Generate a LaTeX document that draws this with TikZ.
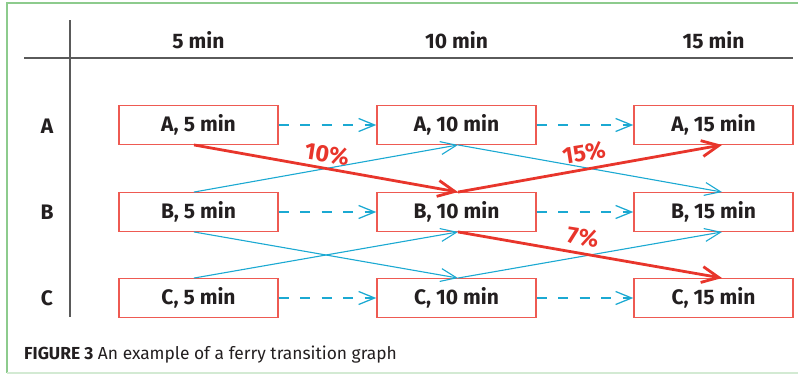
\documentclass[tikz,border=0pt]{standalone}
\usepackage{fontspec}
\setmainfont{Fira Sans}
\usetikzlibrary{arrows.meta,calc}
\definecolor{boxred}{HTML}{EE5A52}
\definecolor{arrred}{HTML}{E8352B}
\definecolor{cyanl}{HTML}{1BA9D2}
\definecolor{gridgray}{HTML}{5A5A5A}
\definecolor{txt}{HTML}{231F20}
\definecolor{greenb}{HTML}{8DCB8D}
\definecolor{greenl}{HTML}{D3EAD3}
\begin{document}
\begin{tikzpicture}[x=1pt,y=-1pt,
  statebox/.style={draw=boxred,line width=1.4pt,minimum width=159pt,minimum height=38.5pt,inner sep=0pt,text=txt,font=\fontsize{21}{24}\selectfont\bfseries},
  head/.style={text=txt,font=\fontsize{21}{24}\selectfont\bfseries,inner sep=0pt},
  wait/.style={draw=cyanl,line width=1.25pt,dash pattern=on 10pt off 11.5pt,-{Straight Barb[length=16pt,width=13pt]}},
  move/.style={draw=cyanl,line width=1.1pt,-{Straight Barb[length=16pt,width=13pt]}},
  hot/.style={draw=arrred,line width=2.8pt,-{Straight Barb[length=17pt,width=16pt]}},
  pct/.style={text=arrred,font=\fontsize{23.5}{26}\selectfont\bfseries,inner sep=0pt},
  gridline/.style={draw=gridgray,line width=2pt}]
\useasboundingbox (0,0) rectangle (798,375);
% frame
\draw[greenb,line width=1.3pt] (798,3) -- (7,3) -- (7,373);
\draw[greenl,line width=1.3pt] (7,373) -- (798,373);
% grid
\coordinate (gt) at (70,20);
\coordinate (gb) at (70,317);
\coordinate (hl) at (24,58);
\coordinate (hr) at (793,58);
\draw[gridline] (gt) -- (gb);
\draw[gridline] (hl) -- (hr);
% headers
\node[head] (h5) at (198.5,40) {5 min};
\node[head] (h10) at (456.5,40) {10 min};
\node[head] (h15) at (713.5,40) {15 min};
\node[head] (rA) at (47,126) {A};
\node[head] (rB) at (47,212) {B};
\node[head] (rC) at (47,298) {C};
% boxes
\node[statebox] (A5) at (198.5,125) {A, 5 min};
\node[statebox] (A10) at (456.5,125) {A, 10 min};
\node[statebox] (A15) at (713.5,125) {A, 15 min};
\node[statebox] (B5) at (198.5,212) {B, 5 min};
\node[statebox] (B10) at (456.5,212) {B, 10 min};
\node[statebox] (B15) at (713.5,212) {B, 15 min};
\node[statebox] (C5) at (198.5,298) {C, 5 min};
\node[statebox] (C10) at (456.5,298) {C, 10 min};
\node[statebox] (C15) at (713.5,298) {C, 15 min};
% waiting arrows
\draw[wait] (A5.east) -- (A10.west);
\draw[wait] (A10.east) -- (A15.west);
\draw[wait] (B5.east) -- (B10.west);
\draw[wait] (B10.east) -- (B15.west);
\draw[wait] (C5.east) -- (C10.west);
\draw[wait] (C10.east) -- (C15.west);
% cyan moves
\draw[move] ([xshift=-4.5pt]B5.north) -- ([xshift=1.5pt]A10.south);
\draw[move] ([xshift=1.5pt]A10.south) -- ([xshift=8.5pt]B15.north);
\draw[move] ([xshift=-4.5pt]B5.south) -- ([xshift=1.5pt]C10.north);
\draw[move] ([xshift=-4.5pt]C5.north) -- ([xshift=1.5pt]B10.south);
\draw[move] ([xshift=1.5pt]C10.north) -- ([xshift=8.5pt]B15.south);
% red moves
\draw[hot] ([xshift=-4.5pt]A5.south) -- ([xshift=1.5pt]B10.north);
\draw[hot] ([xshift=1.5pt]B10.north) -- ([xshift=8.5pt]A15.south);
\draw[hot] ([xshift=1.5pt]B10.south) -- ([xshift=8.5pt]C15.north);
% percentages
\node[pct,rotate=-9] (p10) at (327,154) {10\%};
\node[pct,rotate=9] (p15) at (584,153) {15\%};
\node[pct,rotate=-9] (p7) at (583,237) {7\%};
% caption
\node[anchor=base west,inner sep=0pt,text=txt,font=\fontsize{17.4}{20}\selectfont] (cap) at (24,359) {\textbf{FIGURE 3} An example of a ferry transition graph};
\end{tikzpicture}
\end{document}
